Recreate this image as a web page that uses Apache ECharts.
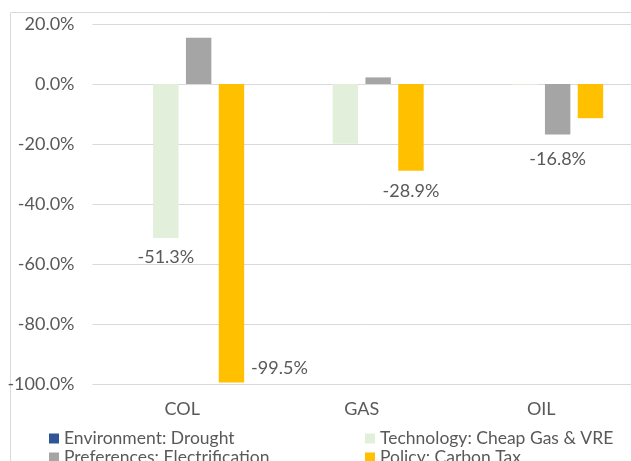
<!DOCTYPE html>
<html lang="en">
<head>
    <meta charset="UTF-8">
    <title>Fuel change by scenario</title>
    <script src="https://cdn.jsdelivr.net/npm/echarts@6/dist/echarts.min.js"></script>
    <style>
        html, body { margin: 0; padding: 0; background: #fff; }
    </style>
</head>
<body>
    <div id="graph" style="width: 631px; height: 461px;"></div>

    <script>
        var categories = ['COL', 'GAS', 'OIL'];
        var seriesNames = ['Environment: Drought', 'Technology: Cheap Gas & VRE',
                           'Preferences: Electrification', 'Policy: Carbon Tax'];
        var environment = [0.0, 0.0, 0.0];
        var technology = [-51.3, -19.9, -0.3];
        var preferences = [15.4, 2.2, -16.8];
        var policy = [-99.5, -28.9, -11.4];
        var yTicks = [-100, -80, -60, -40, -20, 0, 20];

        var colors = ['#2F5597', '#E2EFDA', '#A5A5A5', '#FFC000'];
        var textColor = '#595959';
        var font = 'Lato';

        // which bars carry a data label in the original, and how it is nudged
        var shownLabels = {
            '1-0': {distance: 10, offset: [0, 0]},
            '3-0': {distance: 5, offset: [48, -28]},
            '3-1': {distance: 11, offset: [0, 0]},
            '2-2': {distance: 16, offset: [0, 0]}
        };

        function pct(v) { return v.toFixed(1) + '%'; }

        var values = [environment, technology, preferences, policy];
        var s = [];
        for (var i = 0; i < values.length; i++) {
            var d = [];
            for (var j = 0; j < values[i].length; j++) {
                var cfg = shownLabels[i + '-' + j];
                var item = {value: values[i][j]};
                if (cfg) {
                    item.label = {
                        show: true,
                        position: 'bottom',
                        distance: cfg.distance,
                        offset: cfg.offset,
                        formatter: function (p) { return pct(p.value); },
                        color: textColor,
                        fontFamily: font,
                        fontSize: 18
                    };
                }
                d.push(item);
            }
            s.push({
                name: seriesNames[i],
                type: 'bar',
                data: d,
                barGap: '29%',
                barCategoryGap: '31%',
                itemStyle: {color: colors[i]},
                label: {show: false}
            });
        }

        var legendText = {color: textColor, fontFamily: font, fontSize: 17.5, lineHeight: 19};

        var myChart = echarts.init(document.getElementById('graph'));
        var option = {
            animation: false,
            color: colors,
            graphic: [{
                type: 'rect',
                shape: {x: 10.5, y: 12.5, width: 700, height: 500},
                style: {fill: 'none', stroke: '#D9D9D9', lineWidth: 1},
                silent: true
            }],
            grid: {left: 92.5, right: -10.5, top: 24, bottom: 77},
            legend: [{
                data: [seriesNames[0], seriesNames[2]],
                orient: 'vertical',
                left: 49,
                top: 429,
                height: 80,
                padding: 0,
                icon: 'rect',
                itemWidth: 10,
                itemHeight: 10,
                itemGap: 0,
                textStyle: legendText
            }, {
                data: [seriesNames[1], seriesNames[3]],
                orient: 'vertical',
                left: 365,
                top: 429,
                height: 80,
                padding: 0,
                icon: 'rect',
                itemWidth: 10,
                itemHeight: 10,
                itemGap: 0,
                textStyle: legendText
            }],
            xAxis: {
                type: 'category',
                data: categories,
                axisLine: {show: false},
                axisTick: {show: false},
                axisLabel: {color: textColor, fontFamily: font, fontSize: 18, margin: 16}
            },
            yAxis: {
                type: 'value',
                min: yTicks[0],
                max: yTicks[yTicks.length - 1],
                interval: 20,
                axisLine: {show: false},
                axisTick: {show: false},
                splitLine: {lineStyle: {color: '#D9D9D9', width: 1}},
                axisLabel: {
                    color: textColor, fontFamily: font, fontSize: 18, margin: 18,
                    formatter: function (v) { return pct(v); }
                }
            },
            series: s
        };
        myChart.setOption(option);
    </script>
</body>
</html>
